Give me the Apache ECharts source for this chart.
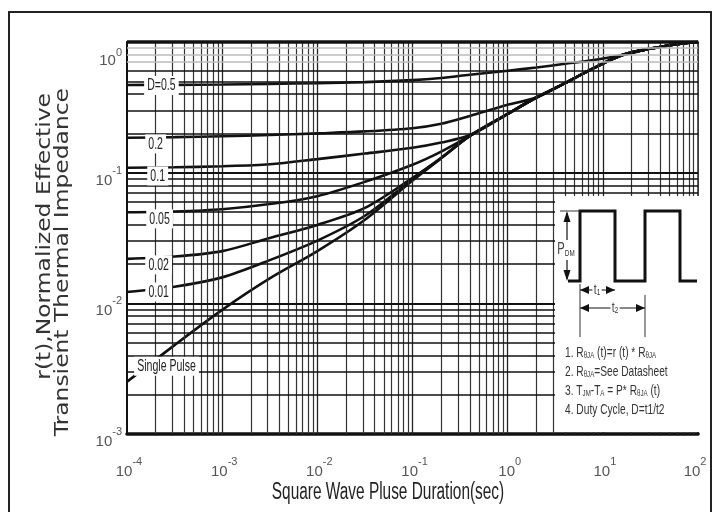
<!DOCTYPE html>
<html><head><meta charset="utf-8">
<script src="https://cdn.jsdelivr.net/npm/echarts@6/dist/echarts.min.js"></script>
<style>html,body{margin:0;padding:0;background:#fff}#c{width:716px;height:512px}</style>
</head><body><div id="c"></div>
<script>
// ---- data ----
const timeSec   = [1e-4, 3.16e-4, 1e-3, 3.16e-3, 1e-2, 3.16e-2, 0.1, 0.2, 0.4, 1, 2, 4, 8, 16, 32, 63, 100];
const dutyHalf  = [0.469, 0.470, 0.473, 0.478, 0.484, 0.493, 0.511, 0.531, 0.562, 0.603, 0.638, 0.681, 0.728, 0.794, 0.891, 0.966, 1.0];
const duty020   = [0.185, 0.187, 0.190, 0.194, 0.200, 0.207, 0.219, 0.237, 0.272, 0.331, 0.376, 0.484, 0.631, 0.794, 0.891, 0.966, 1.0];
const duty010   = [0.109, 0.110, 0.112, 0.116, 0.127, 0.140, 0.155, 0.170, 0.194, 0.282, 0.376, 0.484, 0.631, 0.794, 0.891, 0.966, 1.0];
const duty005   = [0.0498, 0.0505, 0.0525, 0.0575, 0.0661, 0.0851, 0.115, 0.145, 0.191, 0.282, 0.376, 0.484, 0.631, 0.794, 0.891, 0.966, 1.0];
const duty002   = [0.0219, 0.0228, 0.0251, 0.0316, 0.0398, 0.0537, 0.0912, 0.130, 0.191, 0.282, 0.376, 0.484, 0.631, 0.794, 0.891, 0.966, 1.0];
const duty001   = [0.0122, 0.0134, 0.0158, 0.0214, 0.0302, 0.0468, 0.0891, 0.129, 0.191, 0.282, 0.376, 0.484, 0.631, 0.794, 0.891, 0.966, 1.0];
const single    = [0.00251, 0.00479, 0.00891, 0.0155, 0.0251, 0.0436, 0.0871, 0.129, 0.191, 0.282, 0.376, 0.484, 0.631, 0.794, 0.891, 0.966, 1.0];

const curveNames   = ['D=0.5', '0.2', '0.1', '0.05', '0.02', '0.01', 'Single Pulse'];
const curveValues  = [dutyHalf, duty020, duty010, duty005, duty002, duty001, single];
const labelAtTime  = [2.3e-4, 2.0e-4, 2.1e-4, 2.2e-4, 2.15e-4, 2.15e-4, 2.6e-4];
const labelAtValue = [0.465, 0.166, 0.0944, 0.0443, 0.0197, 0.0122, 0.0033];

const xDecades = [1e-4, 1e-3, 1e-2, 1e-1, 1, 10];
const yDecades = [1e-3, 1e-2, 1e-1];
const minorSteps = [2, 3, 4, 5, 6, 7, 8, 9];

const xTitle = 'Square Wave Pluse Duration(sec)';
const yTitle1 = 'r(t),Normalized Effective';
const yTitle2 = 'Transient Thermal Impedance';
const notes = [
  '{n|1. R}{s|\u03B8JA}{n| (t)=r (t) * R}{s|\u03B8JA}',
  '{n|2. R}{s|\u03B8JA}{n|=See Datasheet}',
  '{n|3. T}{s|JM}{n|-T}{s|A}{n| = P* R}{s|\u03B8JA}{n| (t)}',
  '{n|4. Duty Cycle, D=t1/t2}'
];

// ---- styling ----
const SANS = "'Liberation Sans',Arial,sans-serif";

const gridLines = [];
xDecades.forEach((d, i) => {
  if (i > 0) gridLines.push({ xAxis: d, lineStyle: { color: '#222', width: 1.3, type: 'solid' } });
  minorSteps.forEach(m => gridLines.push({ xAxis: m * d, lineStyle: { color: '#333', width: 1.2, type: 'solid' } }));
});
yDecades.forEach((d, i) => {
  if (i > 0) gridLines.push({ yAxis: d, lineStyle: { color: '#111', width: 2, type: 'solid' } });
  minorSteps.forEach(m => {
    const v = m * d;
    gridLines.push({ yAxis: v, lineStyle: { color: v > 0.65 ? '#bbb' : '#111', width: 1.6, type: 'solid' } });
  });
});
gridLines.push({ yAxis: 1, lineStyle: { color: '#111', width: 3.5, type: 'solid' } });

const expOf = v => Math.round(Math.log10(v));
const expLabel = v => '{b|10}{s|' + expOf(v) + '}';
const xLabel = v => (expOf(v) === 2 ? expLabel(v) + '{pad|\u00A0}' : expLabel(v));
const yLabel = v => (expOf(v) === 0 ? '{bt|10}{st|' + expOf(v) + '}' : expLabel(v));
const LABEL_GREY = '#555';
const axisRich = {
  b:   { fontSize: 15, fontFamily: SANS, color: LABEL_GREY, verticalAlign: 'bottom', lineHeight: 23 },
  s:   { fontSize: 11, fontFamily: SANS, color: LABEL_GREY, verticalAlign: 'top', lineHeight: 12 },
  bt:  { fontSize: 15, fontFamily: SANS, color: LABEL_GREY, verticalAlign: 'bottom', lineHeight: 44 },
  st:  { fontSize: 11, fontFamily: SANS, color: LABEL_GREY, verticalAlign: 'bottom', padding: [0, 0, 10, 0] },
  pad: { fontSize: 11, fontFamily: SANS, width: 10 }
};

const series = [{
  type: 'line', name: 'grid', data: [], z: 1, silent: true,
  markLine: { silent: true, precision: 12, symbol: ['none', 'none'], label: { show: false }, animation: false, data: gridLines }
}];
curveNames.forEach((name, i) => {
  series.push({
    type: 'line', name: name, z: 3, smooth: 0.3, showSymbol: false, silent: true,
    data: timeSec.map((t, k) => [t, curveValues[i][k]]),
    lineStyle: { color: '#111', width: 2.6 }
  });
});
series.push({
  type: 'custom', name: 'curve labels', z: 5, silent: true, clip: false,
  data: labelAtTime.map((t, i) => [t, labelAtValue[i]]),
  renderItem: (params, api) => {
    const p = api.coord([api.value(0), api.value(1)]);
    return {
      type: 'text', x: p[0], y: p[1], scaleX: 0.62,
      style: { text: curveNames[params.dataIndex], fontSize: 17, fontFamily: SANS, fill: '#222',
               align: 'center', verticalAlign: 'middle', backgroundColor: '#fff', padding: [1, 5] }
    };
  }
});

const Z = 20;
const small = { fontSize: 9, fontFamily: SANS, fill: '#333', verticalAlign: 'bottom' };
const insetChildren = [
  { type: 'rect', z: Z, shape: { x: 0, y: 0, width: 146, height: 236 }, style: { fill: '#fff' } },
  { type: 'polyline', z: Z, shape: { points: [[13,85],[25,85],[25,15],[60,15],[60,85],[90,85],[90,15],[125,15],[125,85],[142,85]] },
    style: { stroke: '#111', lineWidth: 3, fill: null } },
  { type: 'line', z: Z, shape: { x1: 5, y1: 15, x2: 25, y2: 15 }, style: { stroke: '#333', lineWidth: 1 } },
  { type: 'line', z: Z, shape: { x1: 12, y1: 17, x2: 12, y2: 83 }, style: { stroke: '#111', lineWidth: 1.2 } },
  { type: 'polygon', z: Z, shape: { points: [[12,15],[8.5,26],[15.5,26]] }, style: { fill: '#111' } },
  { type: 'polygon', z: Z, shape: { points: [[12,85],[8.5,74],[15.5,74]] }, style: { fill: '#111' } },
  { type: 'text', z: Z + 1, x: 11, y: 54, scaleX: 0.7, style: { text: '{a|P}{b|DM}', align: 'center', verticalAlign: 'middle',
      backgroundColor: '#fff', padding: [2, 0],
      rich: { a: { fontSize: 16, fontFamily: SANS, fill: '#444', verticalAlign: 'middle' }, b: small } } },
  { type: 'line', z: Z, shape: { x1: 25, y1: 94, x2: 60, y2: 94 }, style: { stroke: '#111', lineWidth: 1.2 } },
  { type: 'polygon', z: Z, shape: { points: [[25,94],[34,90],[34,98]] }, style: { fill: '#111' } },
  { type: 'polygon', z: Z, shape: { points: [[60,94],[51,90],[51,98]] }, style: { fill: '#111' } },
  { type: 'text', z: Z + 1, x: 42, y: 94, scaleX: 0.7, style: { text: '{a|t}{b|1}', align: 'center', verticalAlign: 'middle',
      backgroundColor: '#fff', padding: [0, 2],
      rich: { a: { fontSize: 15, fontFamily: SANS, fill: '#444' }, b: small } } },
  { type: 'line', z: Z, shape: { x1: 25, y1: 112, x2: 90, y2: 112 }, style: { stroke: '#111', lineWidth: 1.2 } },
  { type: 'polygon', z: Z, shape: { points: [[25,112],[34,108],[34,116]] }, style: { fill: '#111' } },
  { type: 'polygon', z: Z, shape: { points: [[90,112],[81,108],[81,116]] }, style: { fill: '#111' } },
  { type: 'text', z: Z + 1, x: 60, y: 112, scaleX: 0.7, style: { text: '{a|t}{b|2}', align: 'center', verticalAlign: 'middle',
      backgroundColor: '#fff', padding: [0, 2],
      rich: { a: { fontSize: 15, fontFamily: SANS, fill: '#444' }, b: small } } },
  { type: 'line', z: Z, shape: { x1: 25, y1: 88, x2: 25, y2: 141 }, style: { stroke: '#333', lineWidth: 1 } },
  { type: 'line', z: Z, shape: { x1: 90, y1: 99, x2: 90, y2: 141 }, style: { stroke: '#333', lineWidth: 1 } }
];
notes.forEach((txt, i) => {
  insetChildren.push({ type: 'text', z: Z + 1, x: 10, y: 157 + i * 19, scaleX: 0.68, style: { text: txt, align: 'left', verticalAlign: 'middle',
    rich: { n: { fontSize: 15, fontFamily: SANS, fill: '#333', verticalAlign: 'middle' }, s: small } } });
});

const option = {
  animation: false,
  backgroundColor: '#fff',
  grid: { left: 127, right: 14, top: 42, bottom: 78, show: true, borderColor: '#111', borderWidth: 1.5 },
  xAxis: {
    type: 'log', logBase: 10, min: 1e-4, max: 100, splitNumber: 6,
    axisLine: { show: true, lineStyle: { color: '#111', width: 3.5 } },
    axisTick: { show: false }, splitLine: { show: false },
    axisLabel: { margin: 22, padding: [0, 0, 0, 4], formatter: xLabel, rich: axisRich, showMinLabel: true, showMaxLabel: true, hideOverlap: false }
  },
  yAxis: {
    type: 'log', logBase: 10, min: 1e-3, max: 1, splitNumber: 3,
    axisLine: { show: true, lineStyle: { color: '#111', width: 2 } },
    axisTick: { show: false }, splitLine: { show: false },
    axisLabel: { margin: 5, padding: [8, 0, 0, 0], formatter: yLabel, rich: axisRich, showMinLabel: true, showMaxLabel: true }
  },
  series: series,
  graphic: [
    { type: 'rect', z: 30, shape: { x: 9, y: 12, width: 702, height: 530 }, style: { fill: null, stroke: '#222', lineWidth: 2 } },
    { type: 'text', z: 30, x: 45, y: 93, rotation: Math.PI / 2, scaleX: 1.17,
      style: { text: yTitle1, fontSize: 20, fontFamily: 'DejaVu Sans', fill: '#333', align: 'right', verticalAlign: 'middle' } },
    { type: 'text', z: 30, x: 63, y: 88, rotation: Math.PI / 2, scaleX: 1.17,
      style: { text: yTitle2, fontSize: 20, fontFamily: 'DejaVu Sans', fill: '#333', align: 'right', verticalAlign: 'middle' } },
    { type: 'text', z: 30, x: 388, y: 493, scaleX: 0.67,
      style: { text: xTitle, fontSize: 23, fontFamily: SANS, fill: '#222', align: 'center', verticalAlign: 'middle' } },
    { type: 'group', x: 555, y: 196, z: Z, children: insetChildren }
  ]
};

const chart = echarts.init(document.getElementById('c'), null, { renderer: 'canvas' });
chart.setOption(option);
</script>
</body></html>
